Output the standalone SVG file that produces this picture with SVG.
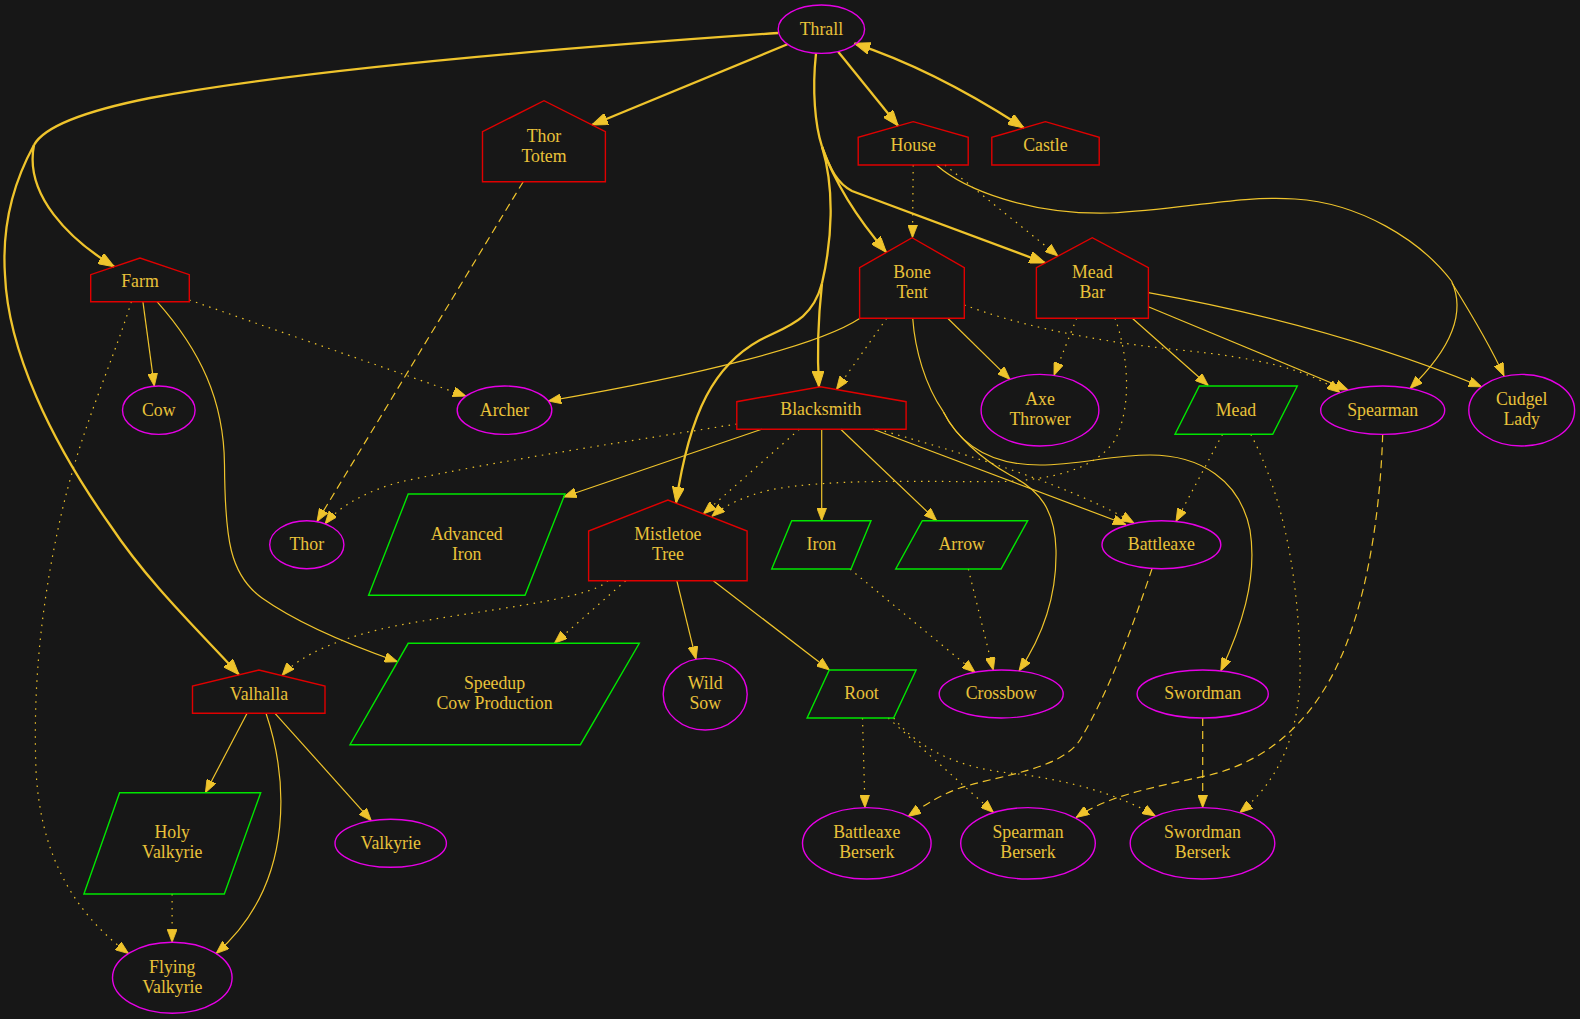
<svg xmlns="http://www.w3.org/2000/svg" width="1580" height="1019" viewBox="0 0 1580 1019">
<style>
.t{font-family:"Liberation Serif","Times New Roman",serif;font-size:17.8px;fill:#e9c23a;text-anchor:middle}
.h{fill:none;stroke:#e00000;stroke-width:1.4}
.o{fill:none;stroke:#e600e6;stroke-width:1.4}
.p{fill:none;stroke:#00e600;stroke-width:1.4}
.e{fill:none;stroke:#efc42c;stroke-width:1.2}
.k{stroke-width:2.3}
.d{stroke-dasharray:1.5 5.5}
.s{stroke-dasharray:8 5}
.a{marker-end:url(#ar)}
.ak{marker-end:url(#ak)}
</style>
<defs>
<marker id="ar" viewBox="0 0 13 10" markerUnits="userSpaceOnUse" markerWidth="13" markerHeight="10" refX="13" refY="5" orient="auto"><path d="M0,0 L13,5 L0,10 z" fill="#efc42c" stroke="#efc42c" stroke-width="0.8"/></marker>
<marker id="ak" viewBox="0 0 16 12" markerUnits="userSpaceOnUse" markerWidth="16" markerHeight="12" refX="16" refY="6" orient="auto-start-reverse"><path d="M0,0 L16,6 L0,12 z" fill="#efc42c" stroke="#efc42c" stroke-width="1"/></marker>
</defs>
<rect width="1580" height="1019" fill="#171717"/>
<g id="edges">
<path class="e k ak" d="M787.5,44.3 L591.8,125"/>
<path class="e k ak" d="M838.2,51.7 L898.2,126"/>
<path class="e k ak" style="marker-start:url(#ak)" d="M854.3,43.3 Q935,70 1024,128"/>
<path class="e k" d="M778,33 C560,48 300,70 150,98 C90,110 45,125 34,145"/>
<path class="e k ak" d="M34,145 C24,195 70,240 114.3,266.7"/>
<path class="e k ak" d="M34,145 C12,185 2,230 5,275 C8,350 50,440 110,525 C150,585 200,632 239,674.8"/>
<path class="e k" d="M816,53.3 C812,90 815,125 822,146.7"/>
<path class="e k ak" d="M822,146.7 C830,170 838,184 852,191 L1045.4,263"/>
<path class="e k ak" d="M822,146.7 C832,175 850,210 886.4,252.4"/>
<path class="e k" d="M822,146.7 C835,190 832,240 822,283.3"/>
<path class="e k ak" d="M822,283.3 C818,320 817,355 819,387"/>
<path class="e k ak" d="M822,283.3 C812,320 790,325 760,340 C715,365 690,410 676,503"/>
<path class="e d a" d="M913.2,165 L912.5,237.7"/>
<path class="e d a" d="M945,165 L1058,256"/>
<path class="e" d="M936.4,165 C965,190 1030,215 1110,213 C1180,210 1240,195 1295,199 C1360,203 1420,240 1451.5,281"/>
<path class="e a" d="M1451.5,281 C1465,310 1455,345 1410,388.5"/>
<path class="e a" d="M1452,283 C1470,312 1490,345 1504,376"/>
<path class="e a" d="M1148.3,292.7 Q1330,325 1481.7,386.8"/>
<path class="e a" d="M1148.3,306.7 L1348.3,390"/>
<path class="e a" d="M1132.3,318.3 L1208.3,385.5"/>
<path class="e d a" d="M1076.7,318.3 C1070,335 1062,355 1054,375.4"/>
<path class="e d a" d="M1115,318.3 C1125,345 1135,400 1115,440 C1095,470 1050,480 1000,481.7 C930,482 830,478 770,490 C745,496 725,505 711.7,516.5"/>
<path class="e d a" d="M964.3,305 C1010,322 1080,340 1180,350 C1260,358 1310,370 1340,392.5"/>
<path class="e a" d="M860,318.3 C820,345 700,375 548.2,401"/>
<path class="e d a" d="M886.7,318.3 L836.4,389.5"/>
<path class="e a" d="M947.7,318.3 L1010,379.4"/>
<path class="e" d="M912.7,318.3 C915,350 925,385 943.3,411.7"/>
<path class="e a" d="M943.3,411.7 C960,445 990,465 1040,465 C1080,465 1110,455 1150,455 C1200,455 1240,480 1250,530 C1258,580 1240,630 1220.8,671"/>
<path class="e a" d="M943.3,411.7 C955,435 980,458 1010,475 C1040,490 1055,510 1056,550 C1057,600 1040,640 1019,671"/>
<path class="e d a" d="M736.8,424 C650,438 500,460 400,482 C370,490 340,505 325,524"/>
<path class="e a" d="M761.7,429.3 L563.5,497"/>
<path class="e d a" d="M799.3,429.3 L703.3,513.9"/>
<path class="e a" d="M821.7,429.3 L821.7,520.7"/>
<path class="e a" d="M840.7,429.3 L936.7,520.7"/>
<path class="e a" d="M873.3,429.3 L1126,524.5"/>
<path class="e d a" d="M878,429.3 C950,450 1060,480 1134,523"/>
<path class="e d a" d="M607.9,580.7 C590,600 480,610 400,625 C340,637 300,655 282,675.6"/>
<path class="e d a" d="M625.7,580.7 L554.3,643.3"/>
<path class="e a" d="M676.8,580.7 L696,659.3"/>
<path class="e a" d="M713.3,580.7 L829.5,670"/>
<path class="e a" d="M142.9,301.7 L154.3,386.2"/>
<path class="e d a" d="M189.3,300 L466,396.1"/>
<path class="e a" d="M157,301.7 C200,350 224,400 224.5,465 C225,540 230,575 262,598 C300,625 350,645 397.6,661.7"/>
<path class="e d a" d="M131.4,301.7 C110,370 80,430 60,520 C40,610 33,690 36,770 C40,850 70,910 128.6,953.6"/>
<path class="e s a" d="M523.2,181.7 L317,521.6"/>
<path class="e a" d="M247.1,713.3 L205.4,792.7"/>
<path class="e a" d="M275,713.3 L371.4,820.8"/>
<path class="e a" d="M266,713.3 C285,770 300,880 216,953.6"/>
<path class="e d a" d="M172.1,894 L172.1,942.3"/>
<path class="e d a" d="M850,569 L975,672.3"/>
<path class="e d a" d="M968.3,569 L993.3,670.2"/>
<path class="e d a" d="M1222.5,434.3 L1176,521.4"/>
<path class="e d a" d="M1250.8,434.3 C1285,500 1298,580 1300,660 C1302,730 1280,780 1239.7,812.7"/>
<path class="e s a" d="M1382.7,434.3 C1380,520 1365,610 1335,670 C1310,720 1270,760 1210,775 C1150,788 1110,795 1076,817.5"/>
<path class="e s a" d="M1152,568.7 C1135,620 1110,690 1080,740 C1060,770 1000,775 960,788 C940,795 925,805 908,816.5"/>
<path class="e d a" d="M862.5,718 L865,807.7"/>
<path class="e d a" d="M888.2,718 L993.6,812.6"/>
<path class="e d a" d="M893.6,718 C920,750 960,768 1010,773 C1070,780 1120,795 1155.4,816"/>
<path class="e s a" d="M1202.7,718 L1202.7,807.7"/>
</g>
<g id="thrall"><ellipse class="o" cx="821.4" cy="29.2" rx="43.2" ry="24.2"/><text class="t" x="821.4" y="34.8">Thrall</text></g>
<g id="thor_totem"><polygon class="h" points="482.5,181.7 482.5,131.7 544,100.7 605.4,131.7 605.4,181.7"/><text class="t" x="544" y="141.7">Thor</text><text class="t" x="544" y="161.7">Totem</text></g>
<g id="house"><polygon class="h" points="858.2,165 858.2,137.3 913.2,121.7 968.2,137.3 968.2,165"/><text class="t" x="913.2" y="151">House</text></g>
<g id="castle"><polygon class="h" points="991.8,165 991.8,137.3 1045.4,121.7 1099.2,137.3 1099.2,165"/><text class="t" x="1045.4" y="151">Castle</text></g>
<g id="farm"><polygon class="h" points="90.7,301.7 90.7,274.7 140,258 189.3,274.7 189.3,301.7"/><text class="t" x="140" y="287.3">Farm</text></g>
<g id="bone_tent"><polygon class="h" points="859.6,318.3 859.6,267.7 912.1,237.7 964.3,267.7 964.3,318.3"/><text class="t" x="912.1" y="277.7">Bone</text><text class="t" x="912.1" y="297.7">Tent</text></g>
<g id="mead_bar"><polygon class="h" points="1036.4,318.3 1036.4,267.7 1092.3,237.7 1148.4,267.7 1148.4,318.3"/><text class="t" x="1092.3" y="277.7">Mead</text><text class="t" x="1092.3" y="297.7">Bar</text></g>
<g id="cow"><ellipse class="o" cx="158.8" cy="410.2" rx="36.3" ry="24.2"/><text class="t" x="158.8" y="415.5">Cow</text></g>
<g id="archer"><ellipse class="o" cx="504.5" cy="410.2" rx="47.3" ry="24.2"/><text class="t" x="504.5" y="415.5">Archer</text></g>
<g id="blacksmith"><polygon class="h" points="736.8,429.3 736.8,401.7 820.4,386.7 906.1,401.7 906.1,429.3"/><text class="t" x="820.8" y="415.3">Blacksmith</text></g>
<g id="axe_thrower"><ellipse class="o" cx="1040" cy="410.2" rx="58.9" ry="35.8"/><text class="t" x="1040" y="405.3">Axe</text><text class="t" x="1040" y="425.3">Thrower</text></g>
<g id="mead"><polygon class="p" points="1199.3,386 1297.3,386 1272.7,434.3 1175,434.3"/><text class="t" x="1236" y="415.5">Mead</text></g>
<g id="spearman"><ellipse class="o" cx="1382.7" cy="410.2" rx="62" ry="24.2"/><text class="t" x="1382.7" y="415.5">Spearman</text></g>
<g id="cudgel_lady"><ellipse class="o" cx="1521.7" cy="410.2" rx="52.9" ry="35.8"/><text class="t" x="1521.7" y="405.3">Cudgel</text><text class="t" x="1521.7" y="425.3">Lady</text></g>
<g id="thor"><ellipse class="o" cx="306.8" cy="544.7" rx="37.1" ry="24"/><text class="t" x="306.8" y="550">Thor</text></g>
<g id="advanced_iron"><polygon class="p" points="408.2,494 565,494 525,595.3 368.6,595.3"/><text class="t" x="466.7" y="540">Advanced</text><text class="t" x="466.7" y="560">Iron</text></g>
<g id="mistletoe_tree"><polygon class="h" points="588.6,580.7 588.6,531 667.9,500 747.1,531 747.1,580.7"/><text class="t" x="667.9" y="540">Mistletoe</text><text class="t" x="667.9" y="560">Tree</text></g>
<g id="iron"><polygon class="p" points="791.7,520.7 871,520.7 851,569 771.7,569"/><text class="t" x="821.4" y="550">Iron</text></g>
<g id="arrow"><polygon class="p" points="922.3,520.7 1027.7,520.7 1001,569 895.7,569"/><text class="t" x="961.7" y="550">Arrow</text></g>
<g id="battleaxe"><ellipse class="o" cx="1161.4" cy="544.7" rx="59.4" ry="24"/><text class="t" x="1161.4" y="550">Battleaxe</text></g>
<g id="valhalla"><polygon class="h" points="192.5,713.3 192.5,686 258.9,670 325,686 325,713.3"/><text class="t" x="258.9" y="699.5">Valhalla</text></g>
<g id="speedup"><polygon class="p" points="408.2,643.3 639.3,643.3 580.4,744.7 350,744.7"/><text class="t" x="494.5" y="688.5">Speedup</text><text class="t" x="494.5" y="708.5">Cow Production</text></g>
<g id="wild_sow"><ellipse class="o" cx="705.2" cy="694.2" rx="42" ry="35.8"/><text class="t" x="705.2" y="689.3">Wild</text><text class="t" x="705.2" y="709.3">Sow</text></g>
<g id="root"><polygon class="p" points="829.3,670 916.1,670 893.6,718 807.1,718"/><text class="t" x="861.5" y="699.3">Root</text></g>
<g id="crossbow"><ellipse class="o" cx="1001.2" cy="694" rx="62" ry="24"/><text class="t" x="1001.2" y="699.3">Crossbow</text></g>
<g id="swordman"><ellipse class="o" cx="1202.7" cy="694" rx="65.6" ry="24"/><text class="t" x="1202.7" y="699.3">Swordman</text></g>
<g id="holy_valkyrie"><polygon class="p" points="119.6,792.7 260.7,792.7 224.3,894 83.9,894"/><text class="t" x="172.2" y="838">Holy</text><text class="t" x="172.2" y="858">Valkyrie</text></g>
<g id="valkyrie"><ellipse class="o" cx="390.7" cy="843.3" rx="55.7" ry="24"/><text class="t" x="390.7" y="848.6">Valkyrie</text></g>
<g id="battleaxe_berserk"><ellipse class="o" cx="866.8" cy="843.3" rx="64.3" ry="35.7"/><text class="t" x="866.8" y="838.3">Battleaxe</text><text class="t" x="866.8" y="858.3">Berserk</text></g>
<g id="spearman_berserk"><ellipse class="o" cx="1028" cy="843.3" rx="67.3" ry="35.7"/><text class="t" x="1028" y="838.3">Spearman</text><text class="t" x="1028" y="858.3">Berserk</text></g>
<g id="swordman_berserk"><ellipse class="o" cx="1202.5" cy="843.3" rx="72.3" ry="35.7"/><text class="t" x="1202.5" y="838.3">Swordman</text><text class="t" x="1202.5" y="858.3">Berserk</text></g>
<g id="flying_valkyrie"><ellipse class="o" cx="172.3" cy="977.8" rx="59.8" ry="35.5"/><text class="t" x="172.3" y="972.8">Flying</text><text class="t" x="172.3" y="992.8">Valkyrie</text></g>
</svg>
